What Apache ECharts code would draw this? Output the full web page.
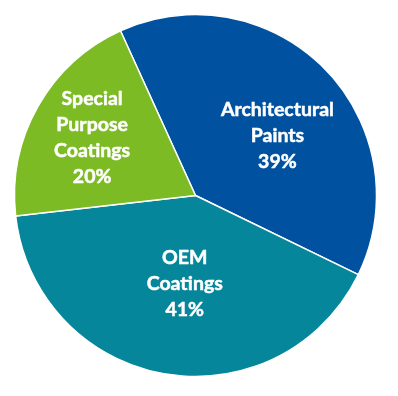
<!DOCTYPE html>
<html>
<head>
<meta charset="utf-8">
<script src="https://cdn.jsdelivr.net/npm/echarts@6/dist/echarts.min.js"></script>
<style>
html,body{margin:0;padding:0;background:#fff;}
#chart{width:398px;height:396px;}
</style>
</head>
<body>
<div id="chart"></div>
<script>
const categories = ["Architectural\nPaints", "OEM\nCoatings", "Special\nPurpose\nCoatings"];
const values = [39, 41, 20];
const colors = ["#0051A0", "#06869A", "#7CBB24"];
const labelShift = [[15, 6], [5, -4], [-22, -12]];

const chart = echarts.init(document.getElementById('chart'), null, {renderer: 'canvas'});
chart.setOption({
  animation: false,
  series: [{
    type: 'pie',
    center: [195.5, 195.5],
    radius: [0, 181],
    startAngle: 114.5,
    clockwise: true,
    data: categories.map((c, i) => ({name: c, value: values[i], itemStyle: {color: colors[i]}})),
    itemStyle: {borderColor: '#fff', borderWidth: 1.5},
    label: {
      position: 'inside',
      formatter: p => p.name + '\n' + p.value + '%',
      color: '#fff',
      fontFamily: 'Lato',
      fontWeight: 'bold',
      fontSize: 19.5,
      lineHeight: 26,
      align: 'center',
      textBorderColor: '#fff',
      textBorderWidth: 0.5
    },
    labelLine: {show: false},
    labelLayout: p => ({dx: labelShift[p.dataIndex][0], dy: labelShift[p.dataIndex][1]}),
    emphasis: {disabled: true}
  }]
});
</script>
</body>
</html>
